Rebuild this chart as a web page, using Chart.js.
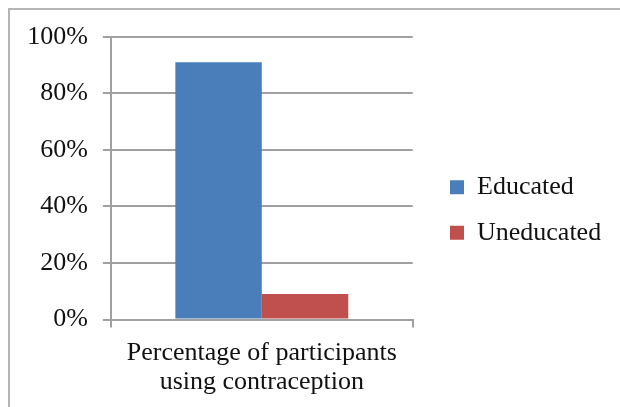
<!DOCTYPE html>
<html>
<head>
<meta charset="utf-8">
<script src="https://cdn.jsdelivr.net/npm/chart.js@4.4.0/dist/chart.umd.min.js"></script>
<style>
  body { margin: 0; background: #fff; }
  #wrap { position: relative; width: 620px; height: 407px; overflow: hidden; }
  #frame { position: absolute; left: 8px; top: 8px; width: 700px; height: 500px;
           border-left: 2px solid #b4b4b4; border-top: 2px solid #b4b4b4; pointer-events: none; }
</style>
</head>
<body>
<div id="wrap">
  <canvas id="contraChart" width="620" height="407"></canvas>
  <div id="frame"></div>
</div>
<script>
const categories = [['Percentage of participants', 'using contraception']];
const seriesNames = ['Educated', 'Uneducated'];
const educated = [91];
const uneducated = [9];
const yTicks = [0, 20, 40, 60, 80, 100];

const gridColor = '#a0a0a0';
const textColor = '#111111';
const serif = 'Liberation Serif';

const ctx = document.getElementById('contraChart').getContext('2d');
const contraChart = new Chart(ctx, {
  type: 'bar',
  data: {
    labels: categories,
    datasets: [{
      label: seriesNames[0],
      data: educated,
      backgroundColor: '#4a7ebb'
    }, {
      label: seriesNames[1],
      data: uneducated,
      backgroundColor: '#c0504d'
    }]
  },
  options: {
    responsive: false,
    animation: false,
    categoryPercentage: 0.573,
    barPercentage: 1,
    layout: {
      padding: { left: 13, top: 13, right: 19.5, bottom: 0 }
    },
    scales: {
      x: {
        type: 'category',
        grid: { color: gridColor, lineWidth: 2, drawOnChartArea: false, tickLength: 8 },
        border: { color: gridColor, width: 2 },
        ticks: {
          color: textColor,
          padding: 12,
          maxRotation: 0,
          font: { family: serif, size: 26, lineHeight: 1.09 }
        },
        afterFit: function(scale) { scale.height = 87.5; }
      },
      x2: {
        type: 'category',
        position: 'top',
        grid: { display: false },
        border: { display: false },
        ticks: { display: false },
        afterFit: function(scale) { scale.height = 23.7; }
      },
      y: {
        type: 'linear',
        min: yTicks[0],
        max: yTicks[yTicks.length - 1],
        grid: { color: gridColor, lineWidth: 2, tickLength: 8 },
        border: { color: gridColor, width: 2 },
        afterBuildTicks: function(scale) {
          scale.ticks = yTicks.map(v => ({ value: v }));
        },
        ticks: {
          color: textColor,
          padding: 15,
          font: { family: serif, size: 26 },
          callback: function(value) {
            return value + '%';
          }
        }
      },
      y2: {
        type: 'linear',
        position: 'right',
        grid: { display: false },
        border: { display: false },
        ticks: { display: false },
        afterFit: function(scale) { scale.width = 17.8; }
      }
    },
    plugins: {
      legend: {
        position: 'right',
        maxWidth: 170,
        labels: {
          color: textColor,
          boxWidth: 14,
          boxHeight: 14,
          padding: 19.5,
          font: { family: serif, size: 26 }
        }
      },
      title: { display: false },
      tooltip: { enabled: false }
    }
  }
});
</script>
</body>
</html>
